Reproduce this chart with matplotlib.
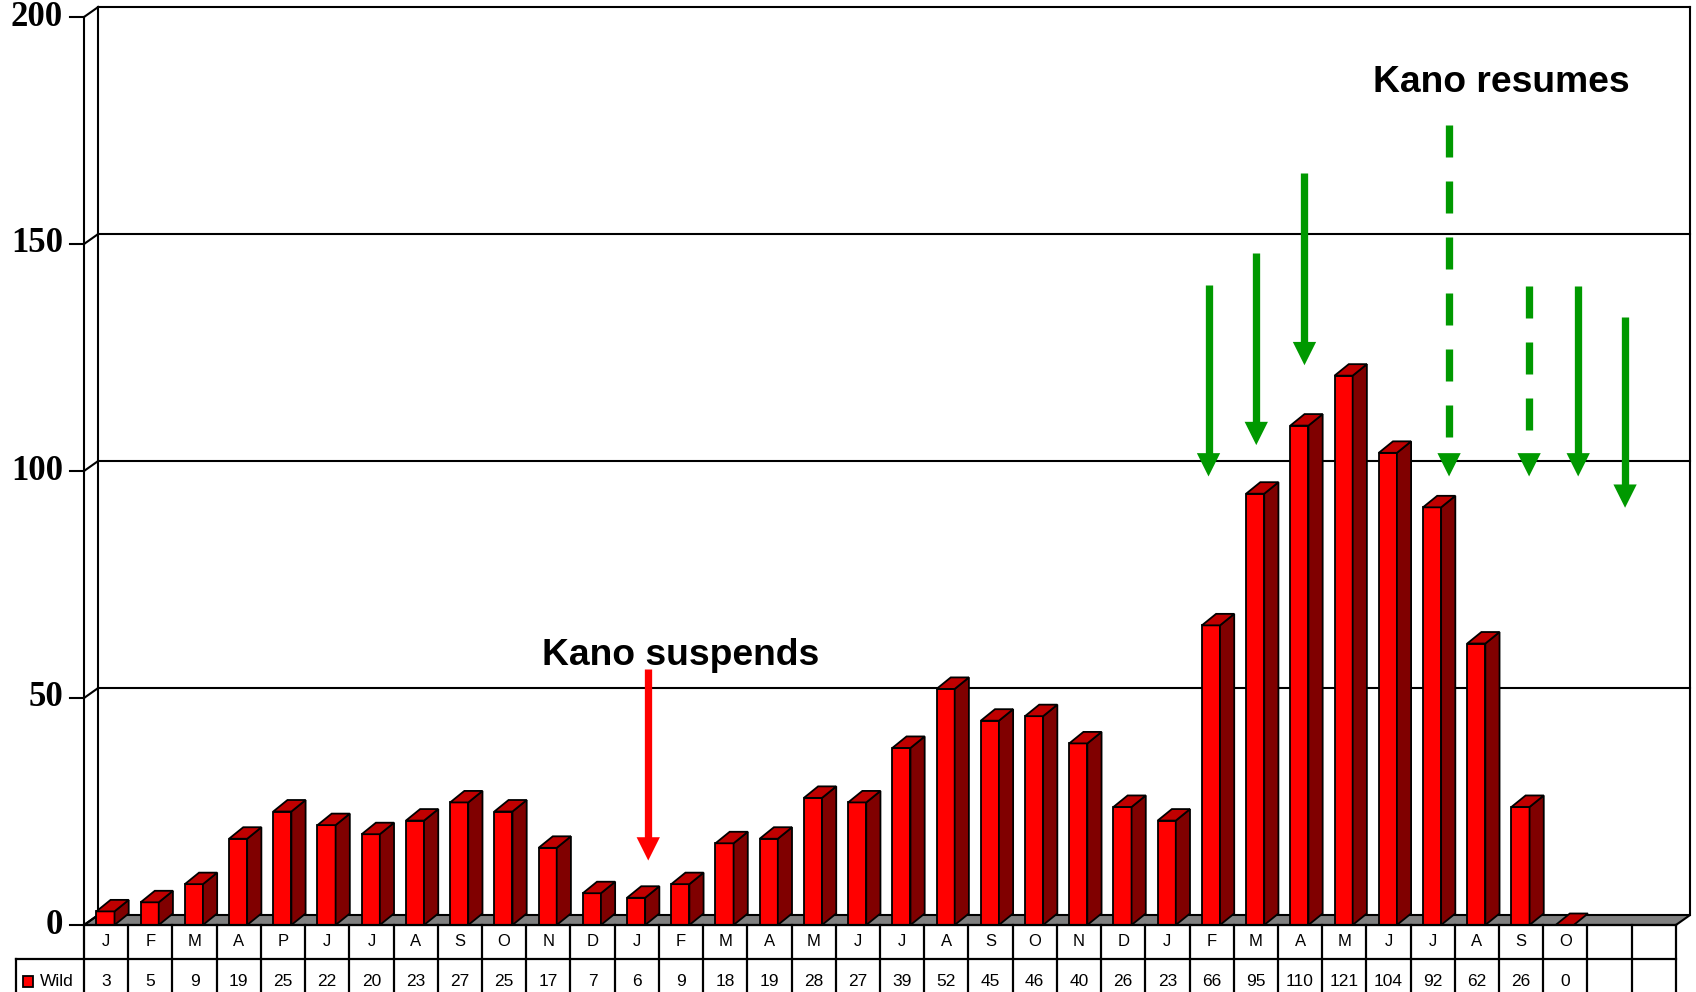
import matplotlib
matplotlib.use("Agg")
import matplotlib.pyplot as plt
from matplotlib.patches import Polygon, Rectangle
from matplotlib import font_manager as fm

# ---------------- data ----------------
categories = ["J", "F", "M", "A", "P", "J", "J", "A", "S", "O", "N", "D",
              "J", "F", "M", "A", "M", "J", "J", "A", "S", "O", "N", "D",
              "J", "F", "M", "A", "M", "J", "J", "A", "S", "O"]
wild = [3, 5, 9, 19, 25, 22, 20, 23, 27, 25, 17, 7,
        6, 9, 18, 19, 28, 27, 39, 52, 45, 46, 40, 26,
        23, 66, 95, 110, 121, 104, 92, 62, 26, 0]
series_name = "Wild"
n_blank = 2
y_ticks = [0, 50, 100, 150, 200]

# annotation arrows (x in category units, tail/tip in value units)
green_x = [24.93, 26.01, 27.10, 30.37, 32.18, 33.29, 34.35]
green_tail = [141.0, 148.0, 165.6, 176.2, 140.8, 140.8, 133.9]
green_tip = [98.8, 105.7, 123.3, 98.8, 98.8, 98.8, 91.9]
green_dashed = [False, False, False, True, True, False, False]
red_x, red_tail, red_tip = 12.26, 56.4, 14.2
label_suspend = "Kano suspends"
label_resume = "Kano resumes"

# ---------------- layout ----------------
W, H = 1696, 992
PX = 44.22   # pixels per category
PY = 4.54    # pixels per unit
X_LEFT_PX, Y_ZERO_PX = 84, 925
ncols = len(categories) + n_blank

plt.rcParams['lines.scale_dashes'] = False
names = {f.name for f in fm.fontManager.ttflist}
narrow = 'Liberation Sans Narrow' if 'Liberation Sans Narrow' in names else 'Liberation Sans'

fig = plt.figure(figsize=(W / 100, H / 100), dpi=100)
ax = fig.add_axes([0, 0, 1, 1])
ax.set_xlim(-0.5 - X_LEFT_PX / PX, -0.5 + (W - X_LEFT_PX) / PX)
ax.set_ylim(-(H - Y_ZERO_PX) / PY, Y_ZERO_PX / PY)
ax.axis('off')

DX = 14.2 / PX
DYW = 10.0 / PY
DYB = 11.5 / PY
LW = 1.5
xl, xr = -0.5, ncols - 0.5
ymax = y_ticks[-1]

# floor
ax.add_patch(Polygon([(xl, 0), (xr, 0), (xr + DX, DYW), (xl + DX, DYW)],
                     closed=True, facecolor='#808080', edgecolor='black', lw=LW, zorder=2))
# back wall
ax.plot([xl + DX, xl + DX], [DYW, ymax + DYW], color='black', lw=LW, zorder=1)
ax.plot([xr + DX, xr + DX], [DYW, ymax + DYW], color='black', lw=LW, zorder=1)
for v in y_ticks[1:]:
    ax.plot([xl + DX, xr + DX], [v + DYW, v + DYW], color='black', lw=LW, zorder=1)
# left wall / front axis
ax.plot([xl, xl], [0, ymax], color='black', lw=LW, zorder=3)
for v in y_ticks:
    ax.plot([xl, xl + DX], [v, v + DYW], color='black', lw=LW, zorder=3)
    ax.plot([xl - 14 / PX, xl], [v, v], color='black', lw=LW, zorder=3)
    ax.text(xl - 21 / PX, v, str(v), ha='right', va='center', fontsize=25,
            fontweight='bold', family='Liberation Serif', zorder=3)

# bars
BW = 0.41
OFF = 0.28
BLW = 1.3
for i, v in enumerate(wild):
    x0 = i - 0.5 + OFF
    x1 = x0 + BW
    if v > 0:
        ax.add_patch(Rectangle((x0, 0), BW, v, facecolor='#FF0000', edgecolor='black',
                               lw=BLW, zorder=4, joinstyle='miter'))
        ax.add_patch(Polygon([(x1, 0), (x1 + DX, DYB), (x1 + DX, v + DYB), (x1, v)],
                             closed=True, facecolor='#800000', edgecolor='black', lw=BLW, zorder=4))
    ax.add_patch(Polygon([(x0, v), (x1, v), (x1 + DX, v + DYB), (x0 + DX, v + DYB)],
                         closed=True, facecolor='#C00000', edgecolor='black', lw=BLW, zorder=4))

# data table
r1b = -(959 - Y_ZERO_PX) / PY
r2b = -(1003 - Y_ZERO_PX) / PY
xleg = xl - (X_LEFT_PX - 16) / PX
TLW = 1.6
ax.plot([xl, xr], [0, 0], color='black', lw=TLW, zorder=5)
ax.plot([xleg, xr], [r1b, r1b], color='black', lw=TLW, zorder=5)
ax.plot([xleg, xr], [r2b, r2b], color='black', lw=TLW, zorder=5)
for k in range(ncols + 1):
    ax.plot([k - 0.5, k - 0.5], [r2b, 0], color='black', lw=TLW, zorder=5)
ax.plot([xleg, xleg], [r2b, r1b], color='black', lw=TLW, zorder=5)
ycat = -(942 - Y_ZERO_PX) / PY
yval = -(981 - Y_ZERO_PX) / PY
for i, (c, v) in enumerate(zip(categories, wild)):
    ax.text(i, ycat, c, ha='center', va='center', fontsize=12, family=narrow, zorder=6)
    ax.text(i, yval, str(v), ha='center', va='center', fontsize=12.5, family=narrow, zorder=6)
# legend key
kx0 = xl - (X_LEFT_PX - 22.7) / PX
kx1 = xl - (X_LEFT_PX - 33) / PX
ky0 = -(986.7 - Y_ZERO_PX) / PY
ky1 = -(976 - Y_ZERO_PX) / PY
ax.add_patch(Rectangle((kx0, ky0), kx1 - kx0, ky1 - ky0, facecolor='#FF0000',
                       edgecolor='black', lw=1.3, zorder=6))
ax.text(xl - (X_LEFT_PX - 40) / PX, yval, series_name, ha='left', va='center',
        fontsize=12.5, family=narrow, zorder=6)

# arrows
HL = 23.3 / PY
HW = 23.3 / PX
SHAFT = 7.3 * 72 / 100


def arrow(x, tail, tip, color, dashed):
    kw = dict(color=color, lw=SHAFT, solid_capstyle='butt', dash_capstyle='butt', zorder=7)
    if dashed:
        kw['dashes'] = (32 * 0.72, 24 * 0.72)
    ax.plot([x, x], [tail, tip + HL * 0.9], **kw)
    ax.add_patch(Polygon([(x - HW / 2, tip + HL), (x + HW / 2, tip + HL), (x, tip)],
                         closed=True, facecolor=color, edgecolor='none', zorder=7))


for gx, gt, gp, gd in zip(green_x, green_tail, green_tip, green_dashed):
    arrow(gx, gt, gp, '#009900', gd)
arrow(red_x, red_tail, red_tip, '#FF0000', False)

ax.text(9.85, 57.3, label_suspend, ha='left', va='baseline', fontsize=26.8,
        fontweight='bold', family='Liberation Sans', zorder=8)
ax.text(28.66, 183.5, label_resume, ha='left', va='baseline', fontsize=26.8,
        fontweight='bold', family='Liberation Sans', zorder=8)

fig.savefig("out.png", dpi=100, facecolor='white')
